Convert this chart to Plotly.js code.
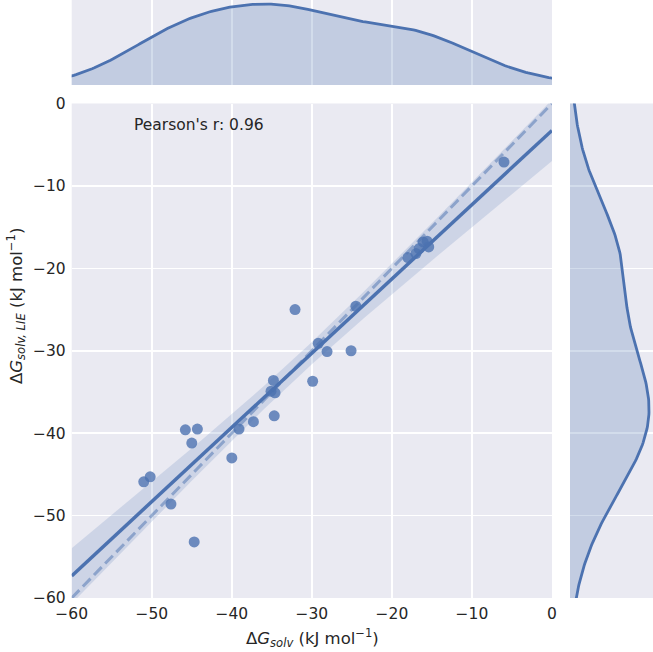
<!DOCTYPE html>
<html>
<head>
<meta charset="utf-8">
<script src="https://cdn.plot.ly/plotly-3.0.1.min.js"></script>
<style>html,body{margin:0;padding:0;background:#fff;}#chart{width:653px;height:652px;}</style>
</head>
<body>
<div id="chart"></div>
<script>
// Experimental solvation free energies (x) vs LIE estimates (y), kJ/mol
const dGsolv = [-51.0, -50.2, -47.6, -45.8, -44.3, -45.0, -44.7, -40.0, -39.1, -37.3,
                -34.7, -35.1, -34.6, -34.8, -32.1, -29.9, -29.2, -28.1, -25.1, -24.5,
                -18.0, -17.0, -16.6, -16.1, -15.6, -15.4, -6.0];
const dGlie   = [-45.9, -45.3, -48.6, -39.6, -39.5, -41.2, -53.2, -43.0, -39.5, -38.6,
                -37.9, -34.9, -35.1, -33.6, -25.0, -33.7, -29.1, -30.1, -30.0, -24.6,
                -18.7, -18.2, -17.6, -16.8, -16.7, -17.4, -7.1];
const tickVals = [-60, -50, -40, -30, -20, -10, 0];
const tickText = ['\u221260', '\u221250', '\u221240', '\u221230', '\u221220', '\u221210', '0'];
const axisRange = [-60, 0];
const pearsonText = "Pearson's r: 0.96";

const C = '#4C72B0';
const TXT = '#262626';
const FONT = 'DejaVu Sans';

function mean(a){return a.reduce((s,v)=>s+v,0)/a.length;}
function std(a){const m=mean(a);return Math.sqrt(a.reduce((s,v)=>s+(v-m)*(v-m),0)/(a.length-1));}
function quantile(a,q){const s=[...a].sort((p,r)=>p-r);const pos=(s.length-1)*q;const lo=Math.floor(pos),hi=Math.ceil(pos);return s[lo]+(s[hi]-s[lo])*(pos-lo);}
function kde(data){
  const n=data.length;
  const iqr=quantile(data,0.75)-quantile(data,0.25);
  const A=Math.min(std(data), iqr/1.349);
  const bw=1.059*A*Math.pow(n,-0.2);   // statsmodels "scott"
  const lo=Math.min(...data)-3*bw, hi=Math.max(...data)+3*bw;
  const g=[],d=[];
  for(let i=0;i<=300;i++){
    const x=lo+(hi-lo)*i/300; let s=0;
    for(const v of data){const z=(x-v)/bw;s+=Math.exp(-0.5*z*z);}
    g.push(x); d.push(s/(n*bw*Math.sqrt(2*Math.PI)));
  }
  return {g,d};
}

// linear regression with 95% CI
const n=dGsolv.length, mx=mean(dGsolv), my=mean(dGlie);
let sxx=0,sxy=0; for(let i=0;i<n;i++){sxx+=(dGsolv[i]-mx)**2;sxy+=(dGsolv[i]-mx)*(dGlie[i]-my);}
const slope=sxy/sxx, icpt=my-slope*mx;
let sse=0; for(let i=0;i<n;i++){sse+=(dGlie[i]-(icpt+slope*dGsolv[i]))**2;}
const se=Math.sqrt(sse/(n-2)); const tcrit=2.06;
const lx=[],ly=[],lu=[],ll=[];
for(let i=0;i<=100;i++){
  const x=axisRange[0]+(axisRange[1]-axisRange[0])*i/100;
  const yh=icpt+slope*x; const h=tcrit*se*Math.sqrt(1/n+(x-mx)**2/sxx);
  lx.push(x); ly.push(yh); lu.push(yh+h); ll.push(yh-h);
}

const kx=kde(dGsolv), ky=kde(dGlie);
const maxKx=Math.max(...kx.d), maxKy=Math.max(...ky.d);

const traces=[
  {x:dGsolv,y:dGlie,type:'scatter',mode:'markers',marker:{color:C,size:11,opacity:0.8,line:{width:0}},xaxis:'x',yaxis:'y',hoverinfo:'skip'},
  {x:lx,y:ll,type:'scatter',mode:'lines',line:{width:0,color:C},xaxis:'x',yaxis:'y',hoverinfo:'skip'},
  {x:lx,y:lu,type:'scatter',mode:'lines',line:{width:0,color:C},fill:'tonexty',fillcolor:'rgba(76,114,176,0.18)',xaxis:'x',yaxis:'y',hoverinfo:'skip'},
  {x:lx,y:ly,type:'scatter',mode:'lines',line:{width:3.5,color:C},xaxis:'x',yaxis:'y',hoverinfo:'skip'},
  {x:axisRange,y:axisRange,type:'scatter',mode:'lines',line:{width:3,color:'rgba(76,114,176,0.5)',dash:'11px,5px'},xaxis:'x',yaxis:'y',hoverinfo:'skip'},
  {x:kx.g,y:kx.d,type:'scatter',mode:'lines',line:{width:2.8,color:C},fill:'tozeroy',fillcolor:'rgba(76,114,176,0.25)',xaxis:'x2',yaxis:'y2',hoverinfo:'skip'},
  {x:ky.d,y:ky.g,type:'scatter',mode:'lines',line:{width:2.8,color:C},fill:'tozerox',fillcolor:'rgba(76,114,176,0.25)',xaxis:'x3',yaxis:'y3',hoverinfo:'skip'}
];

const W=653,H=652;
const xl=71.7/W, xr=552/W, rl=570/W;
const yb=(H-598)/H, yt=(H-103.5)/H, tb=(H-85)/H;
const grid={showgrid:true,gridcolor:'#ffffff',gridwidth:1.6,zeroline:false,showline:false,ticks:''};

const layout={
  width:W,height:H,margin:{l:0,r:0,t:0,b:0},
  paper_bgcolor:'#ffffff',plot_bgcolor:'#EAEAF2',showlegend:false,
  font:{family:FONT,color:TXT,size:15.5},
  xaxis:Object.assign({},grid,{domain:[xl,xr],range:axisRange,tickvals:tickVals,ticktext:tickText,anchor:'y',tickfont:{size:15.5,color:TXT},ticklabelstandoff:4}),
  yaxis:Object.assign({},grid,{domain:[yb,yt],range:axisRange,tickvals:tickVals,ticktext:tickText,anchor:'x',tickfont:{size:15.5,color:TXT},ticklabelstandoff:5}),
  xaxis2:Object.assign({},grid,{domain:[xl,xr],range:axisRange,tickvals:tickVals,showticklabels:false,anchor:'y2'}),
  yaxis2:{domain:[tb,1],range:[0,maxKx*1.05],showgrid:false,zeroline:false,showticklabels:false,ticks:'',anchor:'x2'},
  xaxis3:{domain:[rl,1],range:[0,maxKy*1.05],showgrid:false,zeroline:false,showticklabels:false,ticks:'',anchor:'y3'},
  yaxis3:Object.assign({},grid,{domain:[yb,yt],range:axisRange,tickvals:tickVals,showticklabels:false,anchor:'x3'}),
  annotations:[
    {text:pearsonText,xref:'paper',yref:'paper',x:132/W,y:1-125/H,xanchor:'left',yanchor:'middle',showarrow:false,font:{size:15.5,color:TXT,family:FONT}},
    {text:'\u0394<i>G</i><sub><i>solv</i></sub> (kJ mol<sup>\u22121</sup>)',xref:'paper',yref:'paper',x:312/W,y:1-638/H,xanchor:'center',yanchor:'middle',showarrow:false,font:{size:16.5,color:TXT,family:FONT}},
    {text:'\u0394<i>G</i><sub><i>solv, LIE</i></sub> (kJ mol<sup>\u22121</sup>)',xref:'paper',yref:'paper',x:16/W,y:1-306/H,xanchor:'center',yanchor:'middle',textangle:-90,showarrow:false,font:{size:16.5,color:TXT,family:FONT}}
  ]
};

Plotly.newPlot('chart',traces,layout,{staticPlot:true,displayModeBar:false});
</script>
</body>
</html>
